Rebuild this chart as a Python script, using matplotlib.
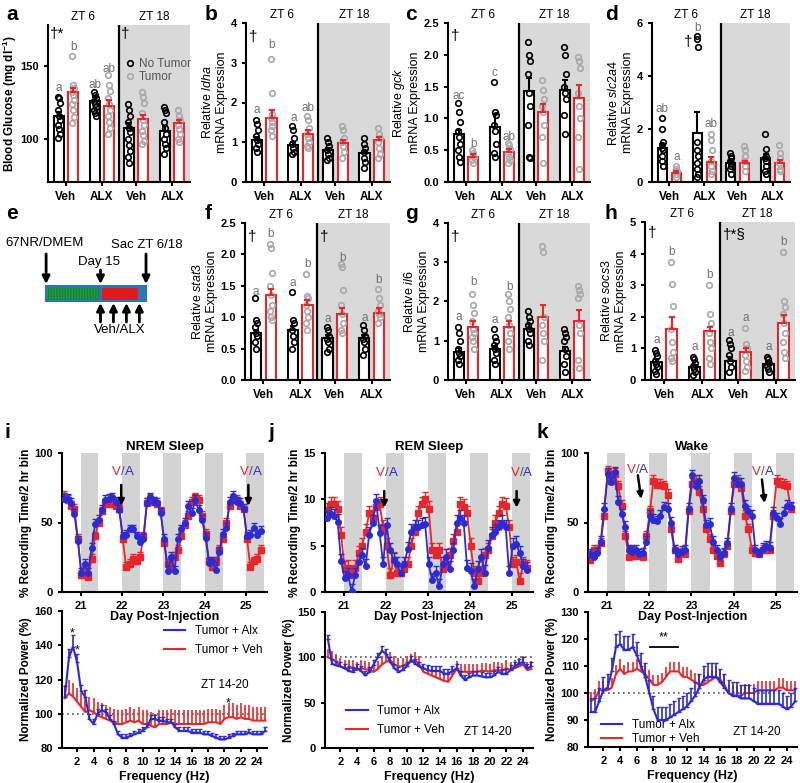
import numpy as np
import matplotlib
matplotlib.use('Agg')
import matplotlib.pyplot as plt
from matplotlib.lines import Line2D
from matplotlib.patches import Rectangle
from matplotlib.ticker import FormatStrFormatter

plt.rcParams['font.family'] = ['Liberation Sans', 'DejaVu Sans']
plt.rcParams['mathtext.fontset'] = 'custom'
plt.rcParams['mathtext.rm'] = 'Liberation Sans'
plt.rcParams['mathtext.it'] = 'Liberation Sans:italic'
plt.rcParams['mathtext.bf'] = 'Liberation Sans:bold'
plt.rcParams['axes.linewidth'] = 1.5
plt.rcParams['xtick.major.width'] = 1.5
plt.rcParams['ytick.major.width'] = 1.5
plt.rcParams['xtick.major.size'] = 3
plt.rcParams['ytick.major.size'] = 3

RED = '#e8262a'
BLUE = '#2b2bd6'
GREY_PT = '#a8a8a8'
SHADE = '#d9d9d9'
LETTER = '#707070'

groups = ['Veh', 'ALX', 'Veh', 'ALX']

# ---- bar panels: order of groups Veh ZT6, ALX ZT6, Veh ZT18, ALX ZT18
a_nt = [116, 126, 108, 106]
a_nt_sem = [3, 3, 3, 3]
a_t = [132, 123, 114, 111]
a_t_sem = [3, 4, 3, 2]
a_pts_nt = [[129, 128, 125, 120, 116, 113, 110, 107, 104, 101],
            [132, 130, 128, 126, 124, 122, 120, 118, 116],
            [124, 120, 116, 112, 108, 105, 100, 96, 92, 88, 84],
            [122, 120, 118, 112, 108, 104, 100, 97, 94, 90]]
a_pts_t = [[157, 137, 135, 132, 130, 127, 124, 120, 115, 111],
           [144, 137, 133, 128, 124, 120, 116, 112, 108, 104],
           [132, 129, 125, 118, 113, 110, 106, 103, 99, 97],
           [120, 116, 113, 110, 107, 104, 100, 98]]
a_letters = ['a', 'b', 'ab', 'ab', '', '', '', '']
a_letter_y = [135, 163, 137, 148, 0, 0, 0, 0]
a_marks = [('†*', -0.45, 172), ('†', 1.52, 172)]

b_nt = [1.05, 0.93, 0.8, 0.73]
b_nt_sem = [0.07, 0.07, 0.05, 0.05]
b_t = [1.62, 1.2, 0.98, 1.05]
b_t_sem = [0.2, 0.1, 0.08, 0.08]
b_pts_nt = [[1.55, 1.45, 1.3, 1.15, 1.05, 0.95, 0.85, 0.75],
            [1.4, 1.3, 1.1, 0.95, 0.85, 0.75, 0.7],
            [1.1, 1.0, 0.9, 0.8, 0.7, 0.6, 0.55],
            [1.1, 0.95, 0.85, 0.75, 0.6, 0.5, 0.35]]
b_pts_t = [[3.1, 2.25, 1.7, 1.6, 1.5, 1.4, 1.3, 1.15],
           [1.65, 1.55, 1.35, 1.2, 1.1, 1.0, 0.9, 0.85],
           [1.4, 1.3, 1.1, 1.0, 0.9, 0.75, 0.6],
           [1.35, 1.2, 1.1, 1.0, 0.85, 0.7, 0.6]]
b_letters = ['a', 'b', 'a', 'ab', '', '', '', '']
b_letter_y = [1.8, 3.45, 1.6, 1.85, 0, 0, 0, 0]
b_marks = [('†', -0.42, 3.65)]

c_nt = [0.75, 0.87, 1.43, 1.45]
c_nt_sem = [0.07, 0.2, 0.2, 0.15]
c_t = [0.4, 0.47, 1.1, 1.32]
c_t_sem = [0.04, 0.05, 0.12, 0.2]
c_pts_nt = [[1.25, 1.1, 0.95, 0.8, 0.7, 0.6, 0.5, 0.4, 0.32],
            [1.57, 1.1, 1.05, 0.9, 0.8, 0.6, 0.45, 0.4],
            [2.2, 2.0, 1.9, 1.7, 1.4, 1.2, 0.9, 0.4, 0.38],
            [2.13, 2.0, 1.7, 1.5, 1.4, 1.3, 1.05, 0.75]]
c_pts_t = [[0.5, 0.45, 0.4, 0.35, 0.3],
           [0.62, 0.58, 0.52, 0.45, 0.4, 0.35, 0.3],
           [1.6, 1.45, 1.3, 1.2, 1.1, 0.9, 0.7, 0.3],
           [1.97, 1.9, 1.8, 1.4, 1.2, 1.0, 0.7, 0.2]]
c_letters = ['ac', 'b', 'c', 'ab', '', '', '', '']
c_letter_y = [1.35, 0.6, 1.72, 0.7, 0, 0, 0, 0]
c_marks = [('†', -0.42, 2.3)]

d_nt = [1.3, 1.85, 0.7, 0.9]
d_nt_sem = [0.15, 0.8, 0.1, 0.15]
d_t = [0.35, 0.75, 0.7, 0.7]
d_t_sem = [0.07, 0.2, 0.1, 0.12]
d_pts_nt = [[2.4, 2.0, 1.5, 1.4, 1.3, 1.2, 1.0, 0.8, 0.6],
            [5.5, 5.4, 5.1, 1.5, 1.2, 1.0, 0.7, 0.5, 0.3, 0.2],
            [1.1, 1.0, 0.9, 0.8, 0.7, 0.6, 0.5, 0.3],
            [1.8, 1.25, 1.0, 0.9, 0.8, 0.6, 0.4, 0.3]]
d_pts_t = [[0.6, 0.5, 0.4, 0.3, 0.2],
           [1.8, 1.6, 1.2, 0.8, 0.6, 0.4, 0.3],
           [1.35, 1.2, 1.0, 0.8, 0.6, 0.4],
           [1.4, 1.1, 0.9, 0.7, 0.5, 0.4]]
d_letters = ['ab', 'a', 'b', 'ab', '', '', '', '']
d_letter_y = [2.75, 0.95, 5.8, 2.2, 0, 0, 0, 0]
d_marks = [('†', 0.42, 5.3)]

f_nt = [0.75, 0.8, 0.67, 0.67]
f_nt_sem = [0.05, 0.06, 0.05, 0.05]
f_t = [1.35, 1.2, 1.05, 1.07]
f_t_sem = [0.1, 0.08, 0.1, 0.08]
f_pts_nt = [[1.3, 0.95, 0.9, 0.85, 0.75, 0.7, 0.6, 0.5],
            [1.4, 0.95, 0.9, 0.8, 0.7, 0.6, 0.5],
            [0.85, 0.8, 0.7, 0.65, 0.6, 0.5, 0.45],
            [0.88, 0.8, 0.7, 0.65, 0.6, 0.5, 0.4]]
f_pts_t = [[2.17, 2.1, 1.7, 1.5, 1.35, 1.2, 1.1, 1.0, 0.95],
           [1.68, 1.33, 1.3, 1.2, 1.1, 1.0, 0.9, 0.8],
           [1.85, 1.8, 1.43, 1.2, 1.05, 0.9, 0.8, 0.75],
           [1.45, 1.3, 1.2, 1.1, 1.05, 1.0, 0.9]]
f_letters = ['a', 'b', 'a', 'b', 'a', 'b', 'a', 'b']
f_letter_y = [1.4, 2.33, 1.55, 1.85, 0.97, 1.95, 0.98, 1.6]
f_marks = [('†', -0.42, 2.27), ('†', 1.55, 2.27)]

g_nt = [0.72, 0.78, 1.3, 0.75]
g_nt_sem = [0.1, 0.08, 0.12, 0.1]
g_t = [1.35, 1.35, 1.6, 1.5]
g_t_sem = [0.15, 0.15, 0.32, 0.28]
g_pts_nt = [[1.35, 1.2, 1.0, 0.8, 0.7, 0.6, 0.5, 0.4],
            [1.3, 1.1, 1.0, 0.9, 0.8, 0.7, 0.5, 0.4],
            [1.75, 1.6, 1.5, 1.4, 1.3, 1.2, 1.0, 0.9],
            [1.3, 1.2, 1.1, 1.0, 0.8, 0.6, 0.4, 0.2]]
g_pts_t = [[2.2, 1.9, 1.7, 1.5, 1.3, 1.2, 1.1, 1.0, 0.8],
           [2.2, 2.0, 1.8, 1.6, 1.4, 1.2, 1.0, 0.8],
           [3.42, 3.25, 1.6, 1.4, 1.2, 1.0, 0.5],
           [2.4, 2.3, 2.2, 2.1, 1.4, 1.2, 0.5, 0.3]]
g_letters = ['a', 'b', 'a', 'b', '', '', '', '']
g_letter_y = [1.6, 2.5, 1.52, 2.37, 0, 0, 0, 0]
g_marks = [('†', -0.42, 3.65)]

h_nt = [0.58, 0.42, 0.6, 0.5]
h_nt_sem = [0.07, 0.05, 0.12, 0.06]
h_t = [1.6, 1.55, 0.9, 1.8]
h_t_sem = [0.4, 0.12, 0.1, 0.25]
h_pts_nt = [[0.95, 0.85, 0.75, 0.6, 0.5, 0.4, 0.3, 0.2],
            [0.72, 0.65, 0.55, 0.45, 0.35, 0.25, 0.15],
            [1.25, 1.15, 1.0, 0.8, 0.6, 0.4, 0.25],
            [0.72, 0.65, 0.55, 0.45, 0.35, 0.25]]
h_pts_t = [[3.75, 3.05, 2.35, 1.6, 1.2, 0.9, 0.7, 0.6],
           [3.0, 2.1, 1.8, 1.5, 1.2, 1.0, 0.7, 0.5],
           [1.65, 1.15, 1.0, 0.8, 0.6, 0.4, 0.3],
           [4.05, 2.5, 2.3, 2.1, 1.8, 1.5, 1.2, 0.9, 0.7]]
h_letters = ['a', 'b', 'a', 'b', 'a', 'a', 'a', 'b']
h_letter_y = [1.27, 4.04, 1.03, 3.33, 1.48, 1.96, 1.06, 4.37]
h_marks = [('†', -0.42, 4.65), ('†*§', 1.55, 4.6)]

# ---- e: study timeline (days)
tumor_day = 0
treat_start = 15
treat_end = 25
sac_day = 27.3
bar_end = 27.6
inject_days = [15, 18.5, 22, 25.5]

# ---- i-k: 2 h bins from day 20.6
days = 20.6 + np.arange(58) / 12
dark_starts = [21, 22, 23, 24, 25]
dark_len = 0.43

nrem_alx = [67, 67, 64, 56, 37, 14, 20, 14, 32, 49, 52, 59, 66, 67, 68, 65, 59, 40, 41, 45,
            45, 40, 36, 38, 64, 68, 65, 64, 57, 38, 15, 25, 15, 38, 45, 50, 62, 57, 66, 59,
            52, 39, 21, 22, 16, 29, 42, 46, 65, 69, 65, 64, 60, 40, 41, 46, 41, 44]
nrem_veh = [69, 66, 62, 60, 38, 12, 15, 11, 24, 40, 50, 58, 63, 63, 64, 62, 60, 38, 18, 20,
            24, 22, 25, 40, 64, 67, 65, 63, 58, 35, 20, 18, 25, 30, 40, 48, 55, 65, 68, 66,
            55, 42, 22, 18, 22, 30, 38, 50, 62, 67, 66, 62, 60, 38, 18, 22, 24, 30]
rem_alx = [8.0, 8.4, 8.2, 7.6, 3.3, 1.5, 1.8, 0.1, 1.8, 3.2, 4.0, 2.8, 6.2, 7.5, 9.8, 6.4, 3.0, 7.2, 4.5, 3.4,
           3.0, 2.0, 3.0, 4.6, 6.5, 7.0, 7.0, 7.2, 7.3, 3.0, 1.3, 2.0, 0.6, 3.0, 3.8, 2.5, 4.5, 7.5, 8.0, 7.5,
           2.6, 2.3, 0.6, 2.5, 3.8, 2.1, 4.8, 6.2, 6.5, 7.0, 7.5, 7.0, 2.0, 5.0, 5.2, 4.2, 2.8, 2.4]
rem_veh = [8.8, 9.5, 9.5, 9.0, 6.2, 2.5, 2.6, 1.8, 2.6, 4.2, 5.0, 6.5, 8.5, 8.0, 9.2, 9.5, 7.0, 5.0, 1.8, 3.5,
           2.0, 2.0, 2.5, 3.0, 5.0, 6.5, 8.5, 9.5, 10.0, 9.0, 4.5, 4.0, 4.5, 2.5, 3.0, 4.0, 5.5, 6.5, 9.5, 9.2,
           8.5, 5.0, 2.0, 1.2, 2.0, 4.0, 4.5, 6.0, 7.5, 8.5, 9.5, 9.3, 7.0, 3.0, 3.2, 1.2, 3.0, 2.6]
wake_alx = [27, 25, 28, 36, 60, 85, 79, 86, 65, 56, 47, 30, 29, 30, 27, 28, 36, 55, 52, 51,
            55, 61, 60, 50, 30, 27, 29, 30, 60, 84, 76, 80, 66, 48, 49, 36, 30, 25, 28, 35,
            60, 82, 78, 78, 62, 58, 55, 30, 27, 31, 33, 32, 57, 53, 49, 57, 62, 61]
wake_veh = [23, 30, 30, 35, 55, 87, 80, 85, 76, 62, 40, 25, 30, 26, 27, 25, 40, 58, 80, 77,
            77, 76, 70, 45, 30, 24, 28, 27, 58, 78, 80, 72, 60, 45, 38, 30, 26, 21, 27, 33,
            58, 78, 80, 75, 55, 45, 30, 28, 27, 30, 30, 30, 55, 80, 78, 77, 76, 60]
nrem_err = 3.5
rem_err = 0.8
wake_err = 4

# ---- spectra, 0.5 Hz bins
freq = np.arange(0.5, 25.01, 0.5)
i_alx = [110, 133, 139, 130, 113, 110, 97, 94, 100, 102, 101, 97, 94, 88, 86, 86, 87, 88, 89, 90,
         92, 97, 97, 96, 96, 95, 95, 92, 90, 90, 90, 89, 89, 89, 88, 88, 87, 86, 85, 85,
         86, 87, 88, 88, 88, 89, 88, 88, 88, 90]
i_veh = [109, 112, 110, 107, 104, 101, 102, 101, 99, 98, 97, 96, 95, 94, 94, 95, 96, 95, 96, 94,
         94, 93, 92, 94, 94, 94, 95, 94, 94, 94, 94, 94, 94, 94, 94, 95, 95, 95, 94, 97,
         98, 98, 97, 98, 97, 97, 96, 96, 96, 96]
j_alx = [120, 93, 91, 90, 88, 85, 84, 88, 85, 80, 84, 92, 100, 107, 104, 95, 88, 84, 86, 90,
         97, 93, 90, 88, 86, 85, 85, 85, 82, 82, 85, 88, 80, 75, 78, 80, 80, 79, 78, 78,
         80, 84, 82, 82, 86, 90, 93, 95, 88, 90]
j_veh = [100, 98, 95, 90, 88, 88, 88, 86, 88, 87, 86, 84, 87, 92, 95, 97, 92, 90, 90, 93,
         95, 97, 92, 84, 82, 80, 78, 76, 74, 73, 80, 87, 84, 84, 84, 84, 84, 85, 85, 84,
         86, 86, 85, 88, 86, 88, 90, 92, 86, 87]
k_alx = [93, 93, 97, 101, 102, 108, 117, 118, 116, 116, 117, 114, 110, 106, 100, 94, 90, 90, 90, 91,
         92, 93, 94, 95, 97, 99, 102, 105, 106, 106, 106, 104, 102, 100, 99, 99, 98, 98, 98, 97,
         96, 96, 96, 96, 96, 96, 95, 94, 95, 97]
k_veh = [97, 98, 101, 101, 101, 102, 107, 109, 107, 108, 108, 109, 108, 107, 105, 103, 103, 104, 106, 108,
         108, 108, 106, 106, 105, 104, 103, 103, 104, 105, 106, 105, 103, 100, 99, 99, 99, 100, 100, 100,
         101, 101, 101, 101, 101, 102, 102, 101, 101, 101]
i_alx_err = [6, 5, 7, 5, 4, 4, 3, 3, 3, 3] + [2] * 40
i_veh_err = 8
j_alx_err = 5
j_veh_err = 9
k_alx_err = 5
k_veh_err = 3.5

fig = plt.figure(figsize=(8, 7.83), dpi=100)
W, H = 800, 783


def px_axes(l, t, r, b):
    return fig.add_axes([l / W, 1 - b / H, (r - l) / W, (b - t) / H])


def tidy(ax, fs=8):
    ax.spines['top'].set_visible(False)
    ax.spines['right'].set_visible(False)
    for lab in ax.get_xticklabels() + ax.get_yticklabels():
        lab.set_fontweight('bold')
        lab.set_fontsize(fs)


cx = np.array([0, 1, 1.95, 2.95])
div = 1.47
xr = 3.45
off = 0.2
bw = 0.28


def bar_panel(ax, nt, nt_sem, t, t_sem, pts_nt, pts_t, letters, letter_y, marks,
              ylim, yticks, ylabel, fmt=None, bold_label=False):
    ax.axvspan(div, xr, color=SHADE, zorder=0, lw=0)
    ax.axvline(div, color='k', lw=1.6, zorder=1)
    ax.bar(cx - off, nt, bw, facecolor='white', edgecolor='k', lw=1.5, zorder=2)
    ax.bar(cx + off, t, bw, facecolor='white', edgecolor=RED, lw=1.5, zorder=2)
    for i in range(4):
        p = np.array(pts_nt[i])
        jit = 0.025 * ((np.arange(len(p)) % 3) - 1)
        ax.plot(cx[i] - off + jit, p, 'o', mfc='none', mec='k', ms=4, mew=1.2, zorder=3)
        p = np.array(pts_t[i])
        jit = 0.025 * ((np.arange(len(p)) % 3) - 1)
        ax.plot(cx[i] + off + jit, p, 'o', mfc='none', mec=GREY_PT, ms=4, mew=1.2, zorder=3)
    ax.errorbar(cx - off, nt, yerr=[np.zeros(4), nt_sem], fmt='none', ecolor='k',
                elinewidth=1.5, capsize=2.5, capthick=1.5, zorder=4)
    ax.errorbar(cx + off, t, yerr=[np.zeros(4), t_sem], fmt='none', ecolor=RED,
                elinewidth=1.5, capsize=2.5, capthick=1.5, zorder=4)
    xs = np.ravel(np.column_stack([cx - off, cx + off]))
    for x, s, y in zip(xs, letters, letter_y):
        if s:
            ax.text(x, y, s, ha='center', va='center', color=LETTER, fontsize=8.5, zorder=5)
    for s, x, y in marks:
        ax.text(x, y, s, ha='left', va='center', fontsize=11, zorder=5)
    ax.set_xlim(-0.5, xr)
    ax.set_ylim(ylim)
    ax.set_yticks(yticks)
    if fmt:
        ax.yaxis.set_major_formatter(FormatStrFormatter(fmt))
    ax.set_xticks(cx)
    ax.set_xticklabels(groups)
    ax.set_ylabel(ylabel, fontsize=8.5 if bold_label else 9,
                  fontweight='bold' if bold_label else 'normal', labelpad=1 if bold_label else 2)
    tidy(ax)
    for lab in ax.get_xticklabels():
        lab.set_fontsize(8.5)
    tr = ax.get_xaxis_transform()
    ax.text((-0.5 + div) / 2, 1.01, 'ZT 6', transform=tr, ha='center', va='bottom', fontsize=8.5)
    ax.text((div + xr) / 2, 1.01, 'ZT 18', transform=tr, ha='center', va='bottom', fontsize=8.5)


def panel_letter(x, y, s):
    fig.text(x / W, 1 - y / H, s, fontsize=15, fontweight='bold', ha='left', va='center')


ax_a = px_axes(48, 25, 190, 182)
bar_panel(ax_a, a_nt, a_nt_sem, a_t, a_t_sem, a_pts_nt, a_pts_t, a_letters, a_letter_y, a_marks,
          (71, 178), [100, 150], r'Blood Glucose (mg dl$^{\mathbf{-1}}$)', bold_label=True)
leg = ax_a.legend(handles=[Line2D([], [], ls='none', marker='o', mfc='none', mec='k', ms=4, mew=1.2),
                           Line2D([], [], ls='none', marker='o', mfc='none', mec=GREY_PT, ms=4, mew=1.2)],
                  labels=['No Tumor', 'Tumor'], loc='upper left', bbox_to_anchor=(0.5, 0.82),
                  frameon=False, fontsize=8.5, handletextpad=0.3, labelspacing=0.1,
                  handlelength=1.0, borderaxespad=0)
for txt in leg.get_texts():
    txt.set_color('#555555')

ax_b = px_axes(246, 23, 390, 182)
bar_panel(ax_b, b_nt, b_nt_sem, b_t, b_t_sem, b_pts_nt, b_pts_t, b_letters, b_letter_y, b_marks,
          (0, 4), [0, 1, 2, 3, 4], 'Relative $\\it{ldha}$\nmRNA Expression')
ax_c = px_axes(448, 23, 590, 182)
bar_panel(ax_c, c_nt, c_nt_sem, c_t, c_t_sem, c_pts_nt, c_pts_t, c_letters, c_letter_y, c_marks,
          (0, 2.5), [0, 0.5, 1.0, 1.5, 2.0, 2.5], 'Relative $\\it{gck}$\nmRNA Expression', fmt='%.1f')
ax_d = px_axes(652, 23, 790, 182)
bar_panel(ax_d, d_nt, d_nt_sem, d_t, d_t_sem, d_pts_nt, d_pts_t, d_letters, d_letter_y, d_marks,
          (0, 6), [0, 2, 4, 6], 'Relative $\\it{slc2a4}$\nmRNA Expression')
ax_f = px_axes(245, 223, 390, 380)
bar_panel(ax_f, f_nt, f_nt_sem, f_t, f_t_sem, f_pts_nt, f_pts_t, f_letters, f_letter_y, f_marks,
          (0, 2.5), [0, 0.5, 1.0, 1.5, 2.0, 2.5], 'Relative $\\it{stat3}$\nmRNA Expression', fmt='%.1f')
ax_g = px_axes(448, 223, 590, 380)
bar_panel(ax_g, g_nt, g_nt_sem, g_t, g_t_sem, g_pts_nt, g_pts_t, g_letters, g_letter_y, g_marks,
          (0, 4), [0, 1, 2, 3, 4], 'Relative $\\it{il6}$\nmRNA Expression')
ax_h = px_axes(645, 222, 795, 380)
bar_panel(ax_h, h_nt, h_nt_sem, h_t, h_t_sem, h_pts_nt, h_pts_t, h_letters, h_letter_y, h_marks,
          (0, 5), [0, 1, 2, 3, 4, 5], 'Relative $\\it{socs3}$\nmRNA Expression')

# ---- e timeline schematic (x in days, y in pixel rows)
ax_e = px_axes(0, 225, 200, 345)
ax_e.axis('off')
ax_e.set_xlim(-45 / 3.7, 155 / 3.7)
ax_e.set_ylim(345, 225)
ax_e.add_patch(Rectangle((tumor_day, 285), bar_end - tumor_day, 17, facecolor='#2e75b6', edgecolor='none'))
ax_e.add_patch(Rectangle((tumor_day + 0.6, 287.5), treat_start - tumor_day - 1.0, 12,
                         facecolor='#1f9e46', edgecolor='#178036', hatch='||||||', lw=0))
ax_e.add_patch(Rectangle((treat_start + 0.4, 287.5), treat_end - treat_start - 0.4, 12,
                         facecolor='#e01b1b', edgecolor='none'))
arrow_kw = dict(arrowstyle='-|>', color='k', lw=2.0, mutation_scale=11, shrinkA=0, shrinkB=0)
ax_e.annotate('', xy=(tumor_day + 0.3, 284), xytext=(tumor_day + 0.3, 254), arrowprops=arrow_kw)
ax_e.annotate('', xy=(treat_start, 284), xytext=(treat_start, 270), arrowprops=arrow_kw)
ax_e.annotate('', xy=(sac_day, 284), xytext=(sac_day, 254), arrowprops=arrow_kw)
for d in inject_days:
    ax_e.annotate('', xy=(d, 303), xytext=(d, 322), arrowprops=arrow_kw)
ax_e.text(tumor_day, 243, '67NR/DMEM', ha='center', va='center', fontsize=9.5)
ax_e.text(treat_start - 0.5, 262, 'Day 15', ha='center', va='center', fontsize=9.5)
ax_e.text(bar_end, 245, 'Sac ZT 6/18', ha='center', va='center', fontsize=9.5)
ax_e.text(np.mean(inject_days), 330, 'Veh/ALX', ha='center', va='center', fontsize=9.5)


def sleep_panel(ax, veh, alx, err, ylim, yticks, title, va_marks):
    for d in dark_starts:
        ax.axvspan(d, d + dark_len, color='#d3d3d3', zorder=0, lw=0)
    z = np.zeros(len(days))
    ax.errorbar(days, veh, yerr=[z, z + err], color=RED, marker='s', ms=3.8, lw=1.3,
                elinewidth=1.0, capsize=2, zorder=2)
    ax.errorbar(days, alx, yerr=[z, z + err], color=BLUE, marker='o', ms=4, lw=1.3,
                elinewidth=1.0, capsize=2, zorder=3)
    for xt, yt, x0, y0, x1, y1 in va_marks:
        ax.text(xt, yt, 'V', color=RED, ha='right', va='center', fontsize=9.5)
        ax.text(xt, yt, '/', color='#555555', ha='left', va='center', fontsize=9.5)
        ax.annotate('A', (xt, yt), xytext=(2.7, 0), textcoords='offset points', color=BLUE,
                    ha='left', va='center', fontsize=9.5)
        ax.annotate('', xy=(x1, y1), xytext=(x0, y0),
                    arrowprops=dict(arrowstyle='-|>', color='k', lw=1.8, mutation_scale=9,
                                    shrinkA=0, shrinkB=0))
    ax.set_xlim(20.55, 25.5)
    ax.set_ylim(ylim)
    ax.set_yticks(yticks)
    ax.set_xticks([21, 22, 23, 24, 25])
    ax.set_title(title, fontsize=9.5, fontweight='bold', pad=-2)
    ax.set_xlabel('Day Post-Injection', fontsize=9, fontweight='bold', labelpad=0)
    ax.set_ylabel('% Recording Time/2 hr bin', fontsize=8.5, fontweight='bold', labelpad=2)
    tidy(ax)


def spec_panel(ax, alx, alx_err, veh, veh_err, ylim, yticks, leg_loc, leg_anchor, zt_xy, leg_space=0.6):
    ax.patch.set_visible(False)
    ax.axhline(100, color='#555555', ls=(0, (1, 2)), lw=1.2, zorder=1)
    z = np.zeros(len(freq))
    ax.errorbar(freq, veh, yerr=[z, z + veh_err], color=RED, lw=1.5, elinewidth=1.2,
                capsize=0, zorder=2)
    ax.errorbar(freq, alx, yerr=[z, z + alx_err], color=BLUE, lw=1.5, elinewidth=1.2,
                capsize=1.5, zorder=3)
    ax.legend(handles=[Line2D([], [], color=BLUE, lw=1.5), Line2D([], [], color=RED, lw=1.5)],
              labels=['Tumor + Alx', 'Tumor + Veh'], loc=leg_loc, bbox_to_anchor=leg_anchor,
              frameon=False, fontsize=8.5, handlelength=1.8, labelspacing=leg_space, borderaxespad=0)
    ax.text(zt_xy[0], zt_xy[1], 'ZT 14-20', ha='center', va='center', fontsize=8.5)
    ax.set_xlim(0.15, 25.2)
    ax.set_ylim(ylim)
    ax.set_yticks(yticks)
    ax.set_xticks(range(2, 25, 2))
    ax.set_xlabel('Frequency (Hz)', fontsize=9, fontweight='bold', labelpad=3)
    ax.set_ylabel('Normalized Power (%)', fontsize=8.5, fontweight='bold', labelpad=2)
    tidy(ax)


ax_it = px_axes(62, 453, 267, 592)
sleep_panel(ax_it, nrem_veh, nrem_alx, nrem_err, (0, 100), [0, 50, 100], 'NREM Sleep',
            [(21.97, 86, 21.98, 77, 21.98, 62), (25.07, 86, 25.05, 77, 25.05, 62)])
ax_ib = px_axes(62, 611, 267, 748)
spec_panel(ax_ib, i_alx, i_alx_err, i_veh, i_veh_err, (80, 160), [80, 100, 120, 140, 160],
           'upper right', (1.0, 0.93), (20.1, 117))
ax_ib.text(1.45, 147, '*', ha='center', va='center', fontsize=9)
ax_ib.text(1.95, 137, '*', ha='center', va='center', fontsize=9)
ax_ib.text(20.5, 106, '*', ha='center', va='center', fontsize=9)

ax_jt = px_axes(325, 453, 533, 592)
sleep_panel(ax_jt, rem_veh, rem_alx, rem_err, (0, 15), [0, 5, 10, 15], 'REM Sleep',
            [(21.98, 12.8, 21.96, 10.9, 21.96, 9.1), (25.18, 12.8, 25.11, 10.9, 25.11, 9.1)])
ax_jb = px_axes(325, 612, 533, 748)
spec_panel(ax_jb, j_alx, j_alx_err, j_veh, j_veh_err, (0, 150), [0, 50, 100, 150],
           'lower left', (0.08, 0.05), (19.7, 18))

ax_kt = px_axes(588, 453, 797, 592)
sleep_panel(ax_kt, wake_veh, wake_alx, wake_err, (0, 100), [0, 50, 100], 'Wake',
            [(21.68, 88, 21.73, 84, 21.81, 67), (24.65, 86, 24.67, 81, 24.73, 64)])
ax_kb = px_axes(588, 612, 797, 747)
spec_panel(ax_kb, k_alx, k_alx_err, k_veh, k_veh_err, (80, 130), [80, 90, 100, 110, 120, 130],
           'lower left', (0.04, -0.02), (20.4, 85.6), leg_space=0.15)
ax_kb.plot([7.6, 10.9], [117, 117], color='k', lw=1.3)
ax_kb.text(9.25, 118.3, '**', ha='center', va='bottom', fontsize=9)

panel_letter(6, 14, 'a')
panel_letter(205, 14, 'b')
panel_letter(405, 14, 'c')
panel_letter(605, 14, 'd')
panel_letter(6, 213, 'e')
panel_letter(205, 213, 'f')
panel_letter(405, 213, 'g')
panel_letter(605, 213, 'h')
panel_letter(4, 432, 'i')
panel_letter(268, 432, 'j')
panel_letter(536, 432, 'k')

fig.savefig('out.png', dpi=100)
